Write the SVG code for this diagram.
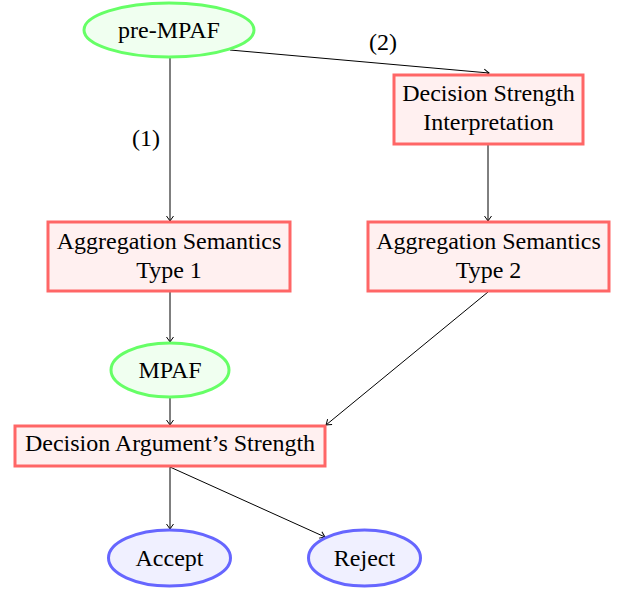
<svg xmlns="http://www.w3.org/2000/svg" width="617" height="591" viewBox="0 0 617 591">
<defs>
<style>
text{font-family:'Liberation Serif','DejaVu Serif',serif;font-size:24px;fill:#000;text-anchor:middle}
.g{fill:#f0fff0;stroke:#66ff66;stroke-width:3}
.r{fill:#fff0f0;stroke:#ff6666;stroke-width:3}
.b{fill:#f0f0ff;stroke:#6666ff;stroke-width:3}
.e{fill:none;stroke:#000;stroke-width:1;marker-end:url(#ah)}
</style>
<marker id="ah" viewBox="-6 -5 7 10" markerWidth="7" markerHeight="10" refX="0" refY="0" orient="auto" markerUnits="userSpaceOnUse">
<path d="M-5,-3.5 Q-1.5,-1 0,0 Q-1.5,1 -5,3.5" fill="none" stroke="#000" stroke-width="1"/>
</marker>
</defs>
<g id="edges">
<line class="e" x1="170" y1="58" x2="170" y2="221"/>
<line class="e" x1="230" y1="50" x2="489" y2="73"/>
<line class="e" x1="488" y1="145" x2="488" y2="221"/>
<line class="e" x1="170" y1="292" x2="170" y2="342"/>
<line class="e" x1="170" y1="398" x2="170" y2="425"/>
<line class="e" x1="488" y1="292" x2="326" y2="425"/>
<line class="e" x1="170" y1="467" x2="170" y2="529"/>
<line class="e" x1="170" y1="467" x2="325" y2="537"/>
<text x="146" y="146">(1)</text>
<text x="383" y="50">(2)</text>
</g>
<g id="pre-mpaf"><ellipse class="g" cx="169" cy="30" rx="85" ry="27"/><text x="169" y="38">pre-MPAF</text></g>
<g id="dsi"><rect class="r" x="394" y="75" width="189" height="69"/><text x="488.5" y="101">Decision Strength</text><text x="488.5" y="130">Interpretation</text></g>
<g id="ast1"><rect class="r" x="48" y="222" width="242" height="69"/><text x="169" y="249">Aggregation Semantics</text><text x="169" y="278">Type 1</text></g>
<g id="ast2"><rect class="r" x="368" y="222" width="241" height="69"/><text x="488.5" y="249">Aggregation Semantics</text><text x="488.5" y="278">Type 2</text></g>
<g id="mpaf"><ellipse class="g" cx="170" cy="370" rx="59" ry="27"/><text x="170" y="378">MPAF</text></g>
<g id="das"><rect class="r" x="15" y="426" width="310" height="40"/><text x="170" y="451">Decision Argument’s Strength</text></g>
<g id="accept"><ellipse class="b" cx="169.5" cy="558" rx="61" ry="28"/><text x="169.5" y="566">Accept</text></g>
<g id="reject"><ellipse class="b" cx="364.5" cy="558" rx="56" ry="28"/><text x="364.5" y="566">Reject</text></g>
</svg>
